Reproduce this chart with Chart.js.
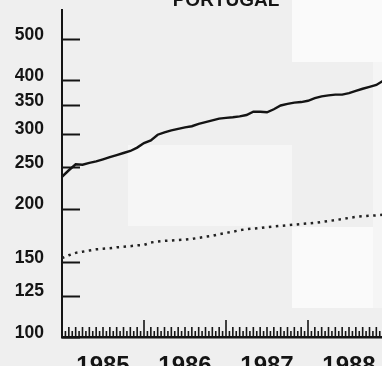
<!DOCTYPE html>
<html><head><meta charset="utf-8">
<script src="https://cdn.jsdelivr.net/npm/chart.js@4/dist/chart.umd.min.js"></script>
<style>
html,body{margin:0;padding:0;background:#efefef;overflow:hidden;width:382px;height:366px;}
.p{position:absolute;}
#wrap{position:absolute;left:0;top:-15px;width:390px;height:381px;}
</style></head><body>
<div class="p" style="left:292px;top:0;width:90px;height:62px;background:#fafafa"></div>
<div class="p" style="left:128px;top:145px;width:164px;height:81px;background:#f6f6f6"></div>
<div class="p" style="left:292px;top:227px;width:81px;height:81px;background:#fafafa"></div>
<div class="p" style="left:373px;top:62px;width:9px;height:246px;background:#f5f5f5"></div>
<div id="wrap"><canvas id="c" width="390" height="381"></canvas></div>
<script>
const chartTitle = 'PORTUGAL';
const yearLabels = ['1985', '1986', '1987', '1988'];
const monthNames = ['Jan','Feb','Mar','Apr','May','Jun','Jul','Aug','Sep','Oct','Nov','Dec'];
const categories = yearLabels.flatMap(y => monthNames.map(m => m + ' ' + y));
const yTicks = [100, 125, 150, 200, 250, 300, 350, 400, 500];

// solid series (upper line)
const seriesSolid = [
  237.5, 246, 254, 253.5, 256, 258, 261, 264, 267, 270, 273, 278,
  285, 289, 298, 302, 305, 307.5, 310, 312, 316, 319, 322, 325,
  326.5, 327.5, 329, 331.5, 337.5, 337.5, 336.5, 342, 349, 352, 354.5, 355.5,
  358, 363, 366.5, 368.5, 370, 370, 373, 377.5, 382, 386, 390, 399
];
// dotted series (lower line)
const seriesDotted = [
  153, 155.5, 157.5, 158.5, 159.5, 160.5, 161, 161.5, 162.3, 162.7, 163.3, 164,
  164.4, 166.5, 167.5, 168.1, 168.4, 168.8, 169.2, 169.8, 170.8, 171.8, 172.6, 174.2,
  175.5, 176.5, 178, 179, 179.6, 180.2, 181, 181.6, 182.2, 182.8, 183.4, 184,
  184.6, 185.2, 186.1, 187, 188, 189, 190.2, 191.3, 191.9, 192.4, 192.8, 193.4
];

const ink = '#141414';

const titleText = {
  id: 'titleText',
  afterDraw(chart) {
    const {ctx, chartArea} = chart;
    ctx.save();
    ctx.fillStyle = ink;
    ctx.font = 'bold 19px "Liberation Sans", Arial, sans-serif';
    ctx.textAlign = 'center';
    ctx.textBaseline = 'alphabetic';
    ctx.fillText(chartTitle, (chartArea.left + chartArea.right) / 2, 21);
    ctx.restore();
  }
};

const tickMarks = {
  id: 'tickMarks',
  afterDatasetsDraw(chart) {
    const {ctx, scales: {x, y}} = chart;
    ctx.save();
    ctx.strokeStyle = ink;
    ctx.lineWidth = 2;
    yTicks.forEach(v => {
      const py = Math.round(y.getPixelForValue(v)) + 0.5;
      ctx.beginPath(); ctx.moveTo(x.left, py); ctx.lineTo(x.left + 18, py); ctx.stroke();
    });
    ctx.lineWidth = 1.6;
    for (let h2 = 1; h2 <= categories.length * 2; h2++) {
      const m = h2 / 2;
      const px = x.getPixelForValue(m);
      const h = (h2 % 24 === 0) ? 17 : (h2 % 2 === 0 ? 10 : 6);
      ctx.beginPath(); ctx.moveTo(px, y.bottom); ctx.lineTo(px, y.bottom - h); ctx.stroke();
    }
    ctx.restore();
  }
};

new Chart(document.getElementById('c'), {
  type: 'line',
  data: {
    datasets: [
      { label: 'solid', data: seriesSolid.map((v, i) => ({x: i, y: v})),
        borderColor: ink, borderWidth: 2.4, pointRadius: 0, tension: 0 },
      { label: 'dotted', data: seriesDotted.map((v, i) => ({x: i, y: v})),
        borderColor: '#222', borderWidth: 2.5, borderDash: [2.5, 4.5], pointRadius: 0, tension: 0 }
    ]
  },
  options: {
    responsive: false,
    devicePixelRatio: 1,
    animation: false,
    layout: { padding: { top: 24.8, left: 0, right: 0, bottom: 0 } },
    plugins: {
      legend: { display: false },
      tooltip: { enabled: false },
      title: { display: false }
    },
    scales: {
      x: {
        type: 'linear', min: 0, max: categories.length,
        grid: { display: false, drawTicks: false },
        border: { display: true, width: 2.5, color: ink },
        afterBuildTicks: s => { s.ticks = yearLabels.map((_, i) => ({ value: i * 12 + 6 })); },
        afterFit: s => { s.height = 29; s.paddingLeft = 0; s.paddingRight = 0; },
        ticks: {
          autoSkip: false, maxRotation: 0, padding: 15, color: ink,
          font: { family: 'Liberation Sans', size: 24, weight: 'bold' },
          callback: v => yearLabels[Math.round((v - 6) / 12)]
        }
      },
      y: {
        type: 'logarithmic', min: 100, max: 585,
        grid: { display: false, drawTicks: false },
        border: { display: true, width: 2, color: ink },
        afterBuildTicks: s => { s.ticks = yTicks.map(v => ({ value: v })); },
        afterFit: s => { s.width = 62; s.paddingTop = 0; s.paddingBottom = 0; },
        ticks: {
          padding: 18, labelOffset: -4, color: ink,
          font: { family: 'Liberation Sans', size: 17.5, weight: 'bold' },
          callback: v => String(v)
        }
      }
    }
  },
  plugins: [tickMarks, titleText]
});
</script>
</body></html>
